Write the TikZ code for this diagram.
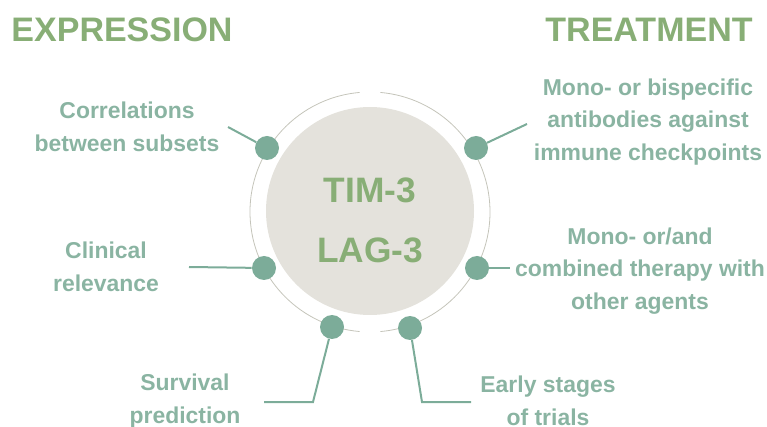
\documentclass[tikz,border=0pt]{standalone}
\usepackage{fontspec}
\setmainfont{Liberation Sans}
\definecolor{checkTeal}{RGB}{124, 172, 153}
\definecolor{labelTeal}{RGB}{138, 180, 162}
\definecolor{titleGreen}{RGB}{136, 174, 118}
\definecolor{coreGrey}{RGB}{228, 226, 220}
\definecolor{ringGrey}{RGB}{196, 196, 186}

\begin{document}
\begin{tikzpicture}[x=0.75pt, y=-0.75pt,
    dot/.style={circle, fill=checkTeal, minimum size=18pt, inner sep=0pt},
    lbl/.style={font=\fontsize{17.2}{24.5}\selectfont\bfseries, text=labelTeal, align=center},
    ttl/.style={font=\fontsize{25.5}{28}\selectfont\bfseries, text=titleGreen},
    core/.style={font=\fontsize{26.5}{30}\selectfont\bfseries, text=titleGreen},
    link/.style={draw=checkTeal, line width=1.5pt}]
    \useasboundingbox (0,0) rectangle (767,427);

    % Titles
    \node[ttl] (expr) at (122,30) {EXPRESSION};
    \node[ttl] (treat) at (649,30) {TREATMENT};

    % Core circle and ring
    \fill[coreGrey] (370,211) circle[radius=78pt];
    \draw[ringGrey, line width=0.6pt] (370,212) ++(95:90pt) arc[start angle=95, end angle=265, radius=90pt];
    \draw[ringGrey, line width=0.6pt] (370,212) ++(-85:90pt) arc[start angle=-85, end angle=85, radius=90pt];
    \node[core] (tim) at (370,190) {TIM-3};
    \node[core] (lag) at (370,250) {LAG-3};

    % Expression side
    \node[lbl] (corr) at (127,127) {Correlations\\between subsets};
    \node[lbl] (clin) at (106,267) {Clinical\\relevance};
    \node[lbl] (surv) at (185,401) {Survival\\prediction};
    \node[dot] (d1) at (267,148) {};
    \node[dot] (d2) at (264,268) {};
    \node[dot] (d3) at (332,327) {};
    \coordinate (c1) at (228,127);
    \coordinate (c2) at (189,267);
    \coordinate (c3a) at (313,402);
    \coordinate (c3b) at (264,402);
    \draw[link] (d1) -- (c1);
    \draw[link] (d2) -- (c2);
    \draw[link] (d3) -- (c3a) -- (c3b);

    % Treatment side
    \node[lbl] (mono) at (648,122) {Mono- or bispecific\\antibodies against\\immune checkpoints};
    \node[lbl] (comb) at (640,271) {Mono- or/and\\combined therapy with\\other agents};
    \node[lbl] (early) at (548,401) {Early stages\\of trials};
    \node[dot] (d4) at (476,148) {};
    \node[dot] (d5) at (477,268) {};
    \node[dot] (d6) at (410,328) {};
    \coordinate (c4) at (527,124);
    \coordinate (c6a) at (422,402);
    \coordinate (c6b) at (471,402);
    \draw[link] (d4) -- (c4);
    \draw[link] (d5) -- (comb.west |- d5);
    \draw[link] (d6) -- (c6a) -- (c6b);
\end{tikzpicture}
\end{document}
